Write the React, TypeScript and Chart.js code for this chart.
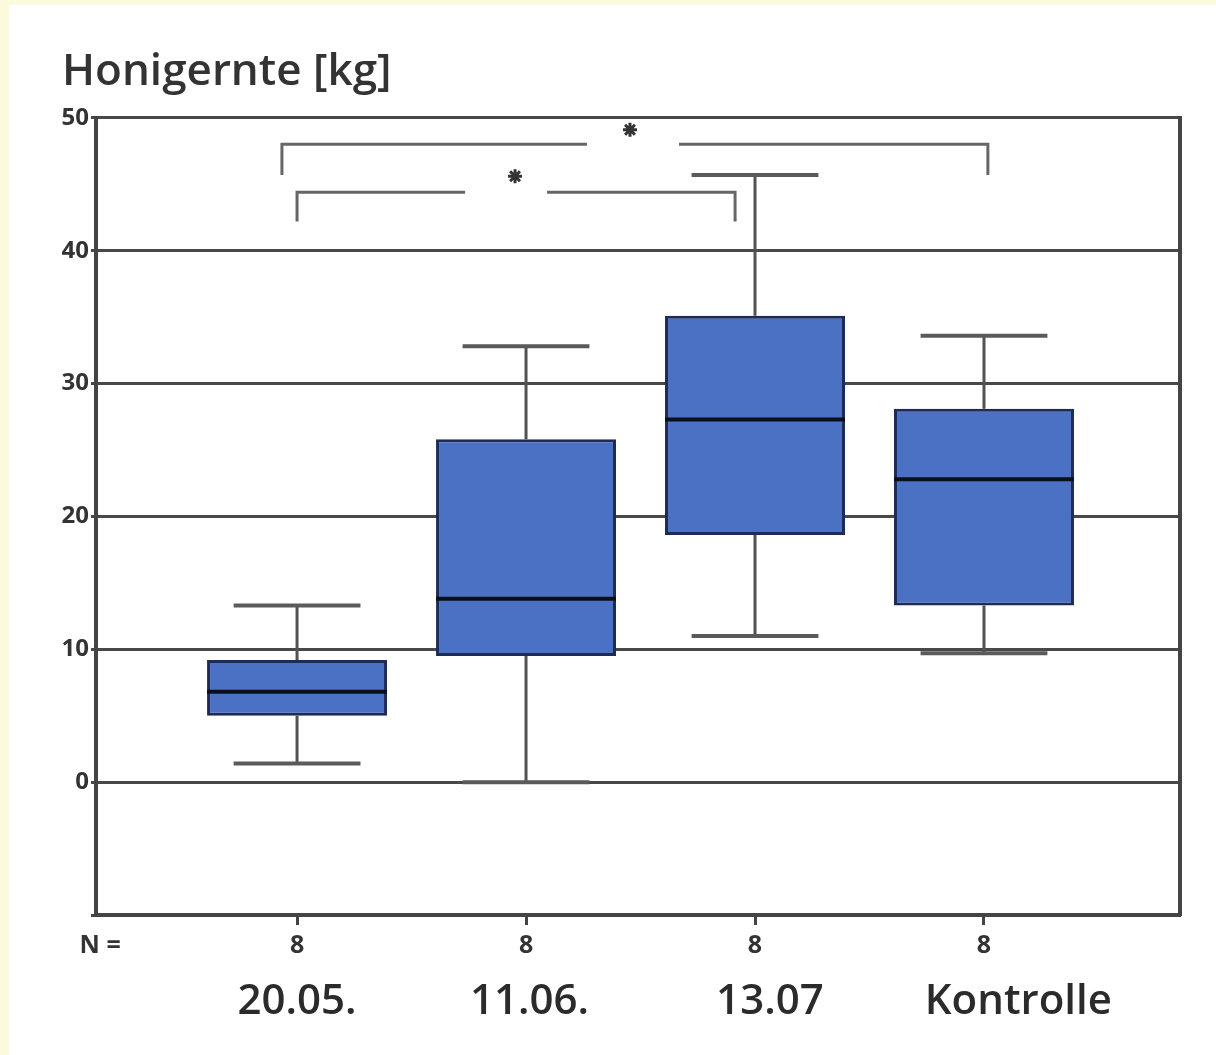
import React, { useEffect, useRef } from "react";
import { Chart, registerables } from "chart.js";

Chart.register(...registerables);

// ---- data ----
const TITLE = "Honigernte [kg]";
const CATEGORIES = ["20.05.", "11.06.", "13.07", "Kontrolle"];
const N_COUNTS = ["8", "8", "8", "8"];
const N_LABEL = "N =";

const WHISKER_LOW = [1.4, 0.0, 11.0, 9.7];
const Q1 = [5.0, 9.5, 18.6, 13.3];
const MEDIAN = [6.8, 13.8, 27.3, 22.8];
const Q3 = [9.2, 25.8, 35.1, 28.1];
const WHISKER_HIGH = [13.3, 32.8, 45.7, 33.6];

const Y_MIN = -10;
const Y_MAX = 50;
const Y_STEP = 10;

// significance brackets
const BRACKET_LEFT = [0.934, 1.0];
const BRACKET_RIGHT = [4.017, 2.913];
const BRACKET_LEVEL = [48.0, 44.4];
const BRACKET_FOOT = [45.7, 42.2];
const BRACKET_GAP_START = [2.266, 1.734];
const BRACKET_GAP_END = [2.668, 2.092];
const STAR_X = [2.454, 1.952];
const STAR_Y = [49.1, 45.6];

// ---- layout / style constants ----
const X_MIN = 0.122;
const X_MAX = 4.856;
const BOX_HALF = 0.393;
const CAP_HALF = 0.277;
const N_LABEL_POS = 0.14;
const LABEL_SHIFT = [0.0, 0.015, 0.065, 0.15];
const W = 1207;
const H = 1050;

const positions = CATEGORIES.map((_, i) => i + 1);
const gap = (x: number) => ({ x, y: null as any });

export default function App() {
  const ref = useRef<HTMLCanvasElement | null>(null);

  useEffect(() => {
    document.body.style.margin = "5px 0 0 9px";
    document.body.style.background = "#fcfadd";
    const canvas = ref.current;
    if (!canvas) return;

    const stems: any[] = [];
    const caps: any[] = [];
    const meds: any[] = [];
    positions.forEach((p, i) => {
      stems.push({ x: p, y: WHISKER_LOW[i] }, { x: p, y: Q1[i] }, gap(p));
      stems.push({ x: p, y: Q3[i] }, { x: p, y: WHISKER_HIGH[i] }, gap(p));
      caps.push({ x: p - CAP_HALF, y: WHISKER_LOW[i] }, { x: p + CAP_HALF, y: WHISKER_LOW[i] }, gap(p));
      caps.push({ x: p - CAP_HALF, y: WHISKER_HIGH[i] }, { x: p + CAP_HALF, y: WHISKER_HIGH[i] }, gap(p));
      meds.push({ x: p - BOX_HALF, y: MEDIAN[i] }, { x: p + BOX_HALF, y: MEDIAN[i] }, gap(p));
    });

    const brackets: any[] = [];
    BRACKET_LEFT.forEach((l, i) => {
      const r = BRACKET_RIGHT[i];
      brackets.push(
        { x: l, y: BRACKET_FOOT[i] },
        { x: l, y: BRACKET_LEVEL[i] },
        { x: BRACKET_GAP_START[i], y: BRACKET_LEVEL[i] },
        gap(BRACKET_GAP_START[i]),
        { x: BRACKET_GAP_END[i], y: BRACKET_LEVEL[i] },
        { x: r, y: BRACKET_LEVEL[i] },
        { x: r, y: BRACKET_FOOT[i] },
        gap(r)
      );
    });
    const stars = STAR_X.map((x, i) => ({ x, y: STAR_Y[i] }));

    const countTicks = [N_LABEL_POS, ...positions];
    const countLabels = [N_LABEL, ...N_COUNTS];
    const nameTicks = positions.map((p, i) => p + LABEL_SHIFT[i]);

    const sans = "'Open Sans', sans-serif";

    const chart = new Chart(canvas, {
      type: "bar",
      data: {
        datasets: [
          {
            type: "bar",
            data: positions.map((p, i) => ({ x: p, y: [Q1[i], Q3[i]] })) as any,
            backgroundColor: "#4a71c3",
            borderColor: "#1e2a58",
            borderWidth: 3,
            borderSkipped: false,
            categoryPercentage: 1,
            barPercentage: BOX_HALF * 2,
            order: 3,
          } as any,
          {
            type: "line",
            data: stems,
            borderColor: "#525252",
            borderWidth: 3,
            pointRadius: 0,
            spanGaps: false,
            order: 4,
          } as any,
          {
            type: "line",
            data: caps,
            borderColor: "#5a5a5a",
            borderWidth: 4,
            pointRadius: 0,
            spanGaps: false,
            order: 2,
          } as any,
          {
            type: "line",
            data: meds,
            borderColor: "#0b0f1c",
            borderWidth: 4,
            pointRadius: 0,
            spanGaps: false,
            order: 1,
          } as any,
          {
            type: "line",
            data: brackets,
            borderColor: "#666666",
            borderWidth: 3,
            pointRadius: 0,
            spanGaps: false,
            order: 1,
          } as any,
          {
            type: "line",
            data: stars,
            showLine: false,
            pointStyle: "star",
            pointRadius: 7,
            pointBorderWidth: 3,
            pointBorderColor: "#333333",
            pointBackgroundColor: "#333333",
            order: 1,
          } as any,
        ],
      },
      options: {
        responsive: false,
        animation: false,
        events: [],
        layout: { padding: { left: 53, right: 0, top: 0, bottom: 0 } },
        plugins: {
          legend: { display: false },
          tooltip: { enabled: false },
          title: {
            display: true,
            text: TITLE,
            align: "start",
            color: "#333333",
            font: { family: sans, size: 44, weight: "600" as any, lineHeight: 1.2 },
            padding: { top: 41, bottom: 19 },
          },
        },
        scales: {
          // category names (dataset x axis)
          x: {
            type: "linear",
            position: "bottom",
            min: X_MIN,
            max: X_MAX,
            offset: false,
            weight: 1,
            afterBuildTicks: (scale: any) => {
              scale.ticks = nameTicks.map((v) => ({ value: v }));
            },
            afterFit: (scale: any) => {
              scale.height = 80;
            },
            ticks: {
              autoSkip: false,
              maxRotation: 0,
              padding: 2,
              color: "#2b2b2b",
              font: { family: sans, size: 42, weight: "600" as any, lineHeight: 1.2 },
              callback: (_v: any, i: number) => CATEGORIES[i],
            },
            grid: { display: false, drawTicks: false, offset: false },
            border: { display: false },
          },
          // N counts, nearest to the plot
          xn: {
            type: "linear",
            position: "bottom",
            min: X_MIN,
            max: X_MAX,
            offset: false,
            weight: 0,
            afterBuildTicks: (scale: any) => {
              scale.ticks = countTicks.map((v) => ({ value: v }));
            },
            afterFit: (scale: any) => {
              scale.height = 60;
            },
            ticks: {
              autoSkip: false,
              maxRotation: 0,
              padding: 6,
              color: "#333333",
              font: { family: sans, size: 25, weight: "bold" as any, lineHeight: 1.2 },
              callback: (_v: any, i: number) => countLabels[i],
            },
            grid: {
              offset: false,
              drawOnChartArea: false,
              drawTicks: true,
              tickLength: 10,
              tickWidth: 3,
              tickColor: (ctx: any) => (ctx.tick && ctx.tick.value >= 1 ? "#444444" : "rgba(0,0,0,0)"),
            },
            border: { display: true, color: "#444444", width: 4 },
          },
          y: {
            type: "linear",
            position: "left",
            min: Y_MIN,
            max: Y_MAX,
            afterFit: (scale: any) => {
              scale.width = 34;
            },
            ticks: {
              stepSize: Y_STEP,
              padding: 2,
              color: "#333333",
              font: { family: sans, size: 24, weight: "bold" as any },
              callback: (v: any) => (Number(v) === Y_MIN ? "" : String(v)),
            },
            grid: {
              color: "#484848",
              lineWidth: 3,
              drawTicks: true,
              tickLength: 5,
            },
            border: { display: true, color: "#444444", width: 4 },
          },
          y2: {
            type: "linear",
            position: "right",
            min: Y_MIN,
            max: Y_MAX,
            afterFit: (scale: any) => {
              scale.width = W - 1171;
            },
            ticks: { display: false },
            grid: { drawOnChartArea: false, drawTicks: false },
            border: { display: true, color: "#444444", width: 4 },
          },
        },
      } as any,
    });

    return () => chart.destroy();
  }, []);

  return (
    <div style={{ width: W, height: H, background: "#ffffff" }}>
      <canvas ref={ref} width={W} height={H} style={{ display: "block" }} />
    </div>
  );
}
